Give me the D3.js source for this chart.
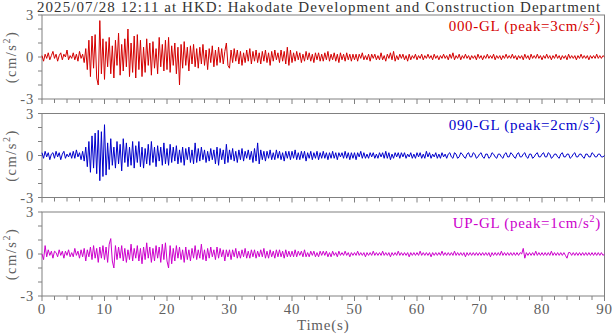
<!DOCTYPE html>
<html>
<head>
<meta charset="utf-8">
<script src="https://cdn.jsdelivr.net/npm/d3@7"></script>
<style>
html,body{margin:0;padding:0;background:#fff;}
svg{display:block;font-family:"Liberation Serif","Times New Roman",serif;}
</style>
</head>
<body>
<svg id="chart" width="612" height="334"></svg>
<script>
const title = "2025/07/28 12:11 at HKD: Hakodate Development and Construction Department";
const components = ["000-GL", "090-GL", "UP-GL"];
const peaks = [3, 2, 1];
const colors = ["#d40000", "#0000cc", "#cc00cc"];
const timeStep = 0.25;
const xTickValues = [0, 10, 20, 30, 40, 50, 60, 70, 80, 90];
const yTickLabels = [-3, 0, 3];

const ns = [
 0.1,-0.3,0.2,-0.1,0.3,-0.2,0.1,0.4,-0.1,0.2,-0.3,0.1,0.3,-0.2,0.2,0.0,0.5,-0.2,0.1,-0.1,
 0.3,-0.2,0.2,-0.3,0.4,-0.1,0.2,-0.4,0.6,-0.9,1.2,-1.4,1.5,-0.8,1.6,-1.5,-2.0,2.6,-1.2,1.3,
 -1.6,1.1,-0.7,1.4,-1.2,0.8,-1.5,1.2,-0.6,1.7,-1.3,0.9,-1.0,1.3,-0.7,2.0,-1.4,1.0,-1.1,1.5,
 -1.5,1.6,-0.9,1.2,-1.4,0.7,-1.1,1.3,-0.6,1.0,-1.3,1.1,-0.8,0.6,-1.2,1.4,-0.7,0.9,-1.0,1.2,
 -0.9,1.4,-1.1,0.8,-0.6,1.0,-1.2,0.7,-2.0,0.9,-0.8,1.1,-0.6,0.7,-1.0,0.8,-0.5,0.9,-0.7,0.6,
 -0.8,0.7,-0.5,0.9,-0.6,0.5,-0.9,0.6,-0.4,0.8,-0.7,0.5,-0.6,0.7,-0.4,0.6,-0.5,0.4,1.0,-0.6,
 -0.8,0.5,-0.4,0.6,-0.3,0.5,-0.5,0.4,-0.6,0.3,-0.4,0.5,-0.3,0.6,-0.5,0.4,-0.3,0.5,-0.4,0.3,
 -0.5,0.4,-0.3,0.5,-0.4,0.3,-0.6,0.4,-0.3,0.5,-0.2,0.3,-0.4,0.5,-0.3,0.4,-0.5,0.7,-0.6,0.5,
 -0.4,0.3,-0.3,0.4,-0.2,0.3,-0.4,0.2,-0.3,0.4,-0.2,0.3,-0.3,0.2,-0.4,0.3,-0.2,0.3,-0.3,0.2,
 -0.3,0.3,-0.2,0.4,-0.3,0.2,-0.2,0.3,-0.3,0.2,-0.4,0.3,-0.2,0.2,-0.3,0.3,-0.2,0.2,-0.3,0.2,
 -0.2,0.2,-0.3,0.2,-0.1,0.3,-0.2,0.1,-0.2,0.2,-0.3,0.2,-0.1,0.2,-0.2,0.1,-0.2,0.3,-0.2,0.1,
 -0.3,0.2,-0.1,0.3,-0.2,0.4,-0.3,0.1,-0.2,0.2,-0.1,0.2,-0.2,0.1,-0.3,0.2,-0.2,0.1,-0.1,0.2,
 -0.2,0.1,-0.1,0.2,-0.2,0.1,-0.1,0.2,-0.1,0.1,-0.2,0.2,-0.1,0.1,-0.2,0.1,-0.1,0.2,-0.1,0.1,
 -0.2,0.2,-0.1,0.3,-0.2,0.1,-0.1,0.2,-0.2,0.1,-0.1,0.2,-0.1,0.1,-0.2,0.1,-0.1,0.1,-0.2,0.2,
 -0.1,0.1,-0.2,0.1,-0.1,0.2,-0.1,0.1,-0.1,0.2,-0.2,0.1,-0.1,0.1,-0.2,0.1,-0.1,0.2,-0.1,0.1,
 -0.1,0.2,-0.1,0.1,-0.2,0.1,-0.1,0.1,-0.2,0.2,-0.1,0.1,-0.2,0.2,-0.1,0.1,-0.1,0.2,-0.1,0.1,
 -0.2,0.1,-0.1,0.2,-0.1,0.1,-0.2,0.1,-0.1,0.2,-0.1,0.1,-0.2,0.1,-0.1,0.1,-0.2,0.2,-0.1,0.1,
 -0.1,0.1,-0.2,0.1,-0.1,0.2,-0.1,0.1,-0.1,0.1,-0.2,0.1,-0.1,0.1,-0.1,0.2,-0.1,0.1,-0.1,0.1,
 0.0
];

const ew = [
 0.2,-0.2,0.3,-0.1,0.2,-0.3,0.1,0.2,-0.2,0.3,-0.1,0.2,-0.3,0.1,0.3,-0.2,0.1,-0.1,0.2,-0.2,
 0.3,-0.2,0.4,-0.1,0.2,-0.3,0.3,-0.4,0.6,-0.8,1.0,-1.2,1.4,-0.9,1.6,-1.3,1.8,-1.8,1.7,-1.5,
 2.2,-1.4,0.9,-1.0,1.2,-0.7,0.6,-0.9,1.0,-0.6,0.8,-1.1,1.2,-0.5,0.9,-0.8,0.6,-0.7,1.0,-0.9,
 0.7,-0.5,1.0,-0.8,0.6,-0.9,0.5,-0.6,0.8,-0.7,1.0,-0.5,0.6,-0.8,0.7,-0.4,0.6,-0.7,0.9,-0.6,
 0.5,-0.7,0.8,-0.5,0.6,-0.4,0.7,-0.6,0.4,-0.5,0.6,-0.7,0.5,-0.3,0.6,-0.5,0.4,-0.6,0.9,-0.5,
 0.5,-0.4,0.6,-0.3,0.4,-0.5,0.3,-0.4,0.5,-0.3,0.4,-0.6,0.6,-0.7,0.5,-0.3,0.4,-0.6,0.8,-0.5,
 0.4,-0.3,0.5,-0.4,0.3,-0.5,0.4,-0.3,0.5,-0.4,0.3,-0.2,0.4,-0.3,0.3,-0.5,0.5,-0.4,0.9,-0.6,
 0.4,-0.3,0.3,-0.4,0.3,-0.2,0.4,-0.3,0.2,-0.3,0.4,-0.2,0.3,-0.3,0.2,-0.4,0.3,-0.2,0.3,-0.3,
 0.3,-0.2,0.4,-0.3,0.2,-0.3,0.3,-0.2,0.3,-0.4,0.2,-0.2,0.3,-0.3,0.2,-0.2,0.3,-0.3,0.2,-0.2,
 0.3,-0.2,0.2,-0.3,0.2,-0.2,0.3,-0.2,0.2,-0.3,0.2,-0.1,0.2,-0.2,0.3,-0.2,0.2,-0.3,0.2,-0.2,
 0.2,-0.3,0.2,-0.1,0.3,-0.2,0.2,-0.2,0.1,-0.2,0.2,-0.1,0.2,-0.2,0.1,-0.2,0.2,-0.1,0.2,-0.2,
 0.3,-0.2,0.2,-0.3,0.1,-0.2,0.2,-0.1,0.2,-0.2,0.2,-0.1,0.2,-0.2,0.1,-0.1,0.2,-0.2,0.1,-0.2,
 0.2,-0.1,0.2,-0.2,0.1,-0.2,0.3,-0.1,0.2,-0.2,0.1,-0.1,0.2,-0.2,0.1,-0.2,0.2,-0.1,0.1,-0.2,
 0.1,0.2,-0.1,-0.2,0.2,0.1,-0.2,-0.1,0.2,0.1,-0.1,-0.2,0.1,0.2,-0.1,-0.1,0.2,0.1,-0.2,-0.1,
 0.1,0.2,-0.1,-0.2,0.1,0.1,-0.2,-0.1,0.2,0.1,-0.1,-0.2,0.1,0.1,-0.1,-0.2,0.1,0.2,-0.1,-0.1,
 0.2,0.1,-0.1,-0.2,0.1,0.2,-0.1,-0.1,0.1,0.2,-0.1,-0.2,0.1,0.1,-0.2,-0.1,0.1,0.2,-0.1,-0.1,
 0.1,0.2,-0.1,-0.1,0.2,0.1,-0.2,-0.1,0.1,0.1,-0.1,-0.2,0.1,0.2,-0.1,-0.1,0.1,0.1,-0.2,-0.1,
 0.1,0.2,-0.1,-0.1,0.1,0.1,-0.1,-0.2,0.1,0.1,-0.1,-0.1,0.2,0.1,-0.1,-0.1,0.1,0.1,-0.1,-0.1,
 0.0
];

const ud = [
 0.0,-0.4,0.6,-0.2,0.3,-0.1,0.2,-0.3,0.2,0.1,-0.2,0.3,-0.1,0.2,-0.3,0.2,-0.1,0.3,-0.2,0.1,
 -0.2,0.4,-0.1,0.2,-0.3,0.3,-0.2,0.4,-0.5,0.3,-0.2,0.5,-0.4,0.6,-0.3,0.4,-0.6,0.5,-0.3,0.6,
 -0.4,0.5,-0.6,0.7,1.1,-0.5,-1.0,0.6,-0.4,0.5,-0.3,0.6,-0.5,0.4,-0.6,0.3,-0.4,0.7,-0.5,0.4,
 -0.3,0.6,-0.5,0.4,-0.7,0.5,-0.4,0.8,-0.3,0.5,-0.6,0.4,-0.5,0.6,-0.3,0.5,-0.6,0.7,-0.4,0.8,
 -0.5,-1.0,0.6,-0.7,0.4,-0.5,0.6,-0.3,0.5,-0.4,0.3,-0.6,0.5,-0.4,0.3,-0.5,0.4,-0.3,0.6,-0.4,
 0.3,-0.3,0.7,-0.4,0.3,-0.5,0.4,-0.3,0.5,-0.2,0.3,-0.4,0.5,-0.3,0.4,-0.2,0.3,-0.5,0.3,-0.2,
 0.3,-0.4,0.3,-0.2,0.4,-0.3,0.2,-0.3,0.3,-0.2,0.4,-0.3,0.2,-0.3,0.3,-0.2,0.3,-0.3,0.2,-0.2,
 0.3,-0.2,0.4,-0.3,0.2,-0.3,0.3,-0.2,0.2,-0.3,0.3,-0.2,0.3,-0.2,0.2,-0.3,0.3,-0.2,0.2,-0.2,
 0.2,-0.2,0.3,-0.2,0.2,-0.1,0.2,-0.2,0.3,-0.2,0.1,-0.2,0.2,-0.1,0.2,-0.2,0.1,-0.2,0.2,-0.1,
 0.2,-0.1,0.2,-0.2,0.1,-0.2,0.2,-0.1,0.1,-0.2,0.2,-0.1,0.1,-0.1,0.2,-0.1,0.1,-0.2,0.1,-0.1,
 0.1,-0.1,0.2,-0.1,0.1,-0.1,0.1,-0.2,0.1,-0.1,0.1,-0.1,0.2,-0.1,0.1,-0.1,0.1,-0.1,0.2,-0.1,
 0.1,-0.1,0.1,-0.2,0.1,-0.1,0.1,-0.1,0.2,-0.1,0.1,-0.1,0.1,-0.1,0.1,-0.2,0.1,-0.1,0.1,-0.1,
 0.1,-0.1,0.2,-0.1,0.1,-0.1,0.1,-0.1,0.1,-0.2,0.1,-0.1,0.1,-0.1,0.1,-0.1,0.2,-0.1,0.1,-0.1,
 0.1,-0.1,0.1,-0.1,0.2,-0.1,0.1,-0.1,0.1,-0.1,0.1,-0.2,0.1,-0.1,0.1,-0.1,0.1,-0.1,0.1,-0.1,
 0.1,-0.1,0.1,-0.1,0.1,-0.1,0.1,-0.2,0.1,-0.1,0.1,-0.1,0.1,-0.1,0.2,-0.1,0.1,-0.1,0.1,-0.1,
 0.1,-0.1,0.1,-0.1,0.1,-0.1,0.1,0.0,0.4,-0.3,0.1,-0.1,0.1,-0.1,0.1,-0.1,0.2,-0.1,0.1,-0.1,
 0.1,-0.1,0.1,-0.1,0.1,-0.1,0.2,-0.1,0.1,-0.1,0.1,-0.1,0.1,-0.1,0.1,-0.1,-0.3,0.1,0.1,-0.1,
 0.1,-0.1,0.1,-0.1,0.1,-0.1,0.1,-0.1,0.1,-0.1,0.1,-0.1,0.1,-0.1,0.1,-0.1,0.1,-0.1,0.1,-0.1,
 0.0
];

const series = [ns, ew, ud];

const svg = d3.select("#chart");
const axisColor = "#808080";
const textColor = "#606060";
const left = 42, right = 604.5;
const panelTops = [15, 113.5, 212];
const panelH = 84;

const x = d3.scaleLinear().domain([0, 90]).range([left, right]);

// Title
svg.append("text")
  .attr("x", 37).attr("y", 12)
  .attr("font-size", 15)
  .attr("letter-spacing", 1.05)
  .attr("fill", "#333")
  .text(title);

series.forEach((vals, i) => {
  const top = panelTops[i];
  const y = d3.scaleLinear().domain([-3, 3]).range([top + panelH, top]);
  const g = svg.append("g");

  // frame
  g.append("rect")
    .attr("x", left).attr("y", top)
    .attr("width", right - left).attr("height", panelH)
    .attr("fill", "none").attr("stroke", axisColor).attr("stroke-width", 1);

  // y ticks
  d3.range(-3, 4).forEach(v => {
    g.append("line")
      .attr("x1", left - 4).attr("x2", left)
      .attr("y1", y(v)).attr("y2", y(v))
      .attr("stroke", axisColor);
  });
  yTickLabels.forEach(v => {
    g.append("text")
      .attr("x", left - 8).attr("y", y(v) + 5)
      .attr("text-anchor", "end")
      .attr("font-size", 14.5)
      .attr("letter-spacing", 0.8)
      .attr("fill", textColor)
      .text(v);
  });

  // x ticks (bottom, outward)
  d3.range(0, 91, 2).forEach(t => {
    const major = t % 10 === 0;
    g.append("line")
      .attr("x1", x(t)).attr("x2", x(t))
      .attr("y1", top + panelH).attr("y2", top + panelH + (major ? 5 : 4))
      .attr("stroke", axisColor);
  });

  // y label
  const yl = g.append("text")
    .attr("transform", `translate(${16},${top + panelH / 2}) rotate(-90)`)
    .attr("text-anchor", "middle")
    .attr("font-size", 14.5)
    .attr("letter-spacing", 1.5)
    .attr("fill", textColor);
  yl.append("tspan").text("(cm/s");
  yl.append("tspan").attr("font-size", 10).attr("dy", -6).text("2");
  yl.append("tspan").attr("dy", 6).text(")");

  // trace
  const line = d3.line()
    .x((d, k) => x(k * timeStep))
    .y(d => y(d));
  g.append("path")
    .datum(vals)
    .attr("d", line)
    .attr("fill", "none")
    .attr("stroke", colors[i])
    .attr("stroke-width", 1)
    .attr("stroke-linejoin", "round");

  // legend
  const lt = g.append("text")
    .attr("x", 601).attr("y", top + 16)
    .attr("text-anchor", "end")
    .attr("font-size", 15)
    .attr("letter-spacing", 0.7)
    .attr("fill", colors[i]);
  lt.append("tspan").text(`${components[i]} (peak=${peaks[i]}cm/s`);
  lt.append("tspan").attr("font-size", 10).attr("dy", -6).text("2");
  lt.append("tspan").attr("dy", 6).text(")");
});

// x tick labels (bottom panel only)
const lastBottom = panelTops[2] + panelH;
xTickValues.forEach(t => {
  svg.append("text")
    .attr("x", x(t)).attr("y", lastBottom + 18)
    .attr("text-anchor", "middle")
    .attr("font-size", 15)
    .attr("letter-spacing", 0.8)
    .attr("fill", textColor)
    .text(t);
});

svg.append("text")
  .attr("x", (left + right) / 2).attr("y", lastBottom + 34)
  .attr("text-anchor", "middle")
  .attr("font-size", 15)
  .attr("letter-spacing", 0.8)
  .attr("fill", textColor)
  .text("Time(s)");
</script>
</body>
</html>
